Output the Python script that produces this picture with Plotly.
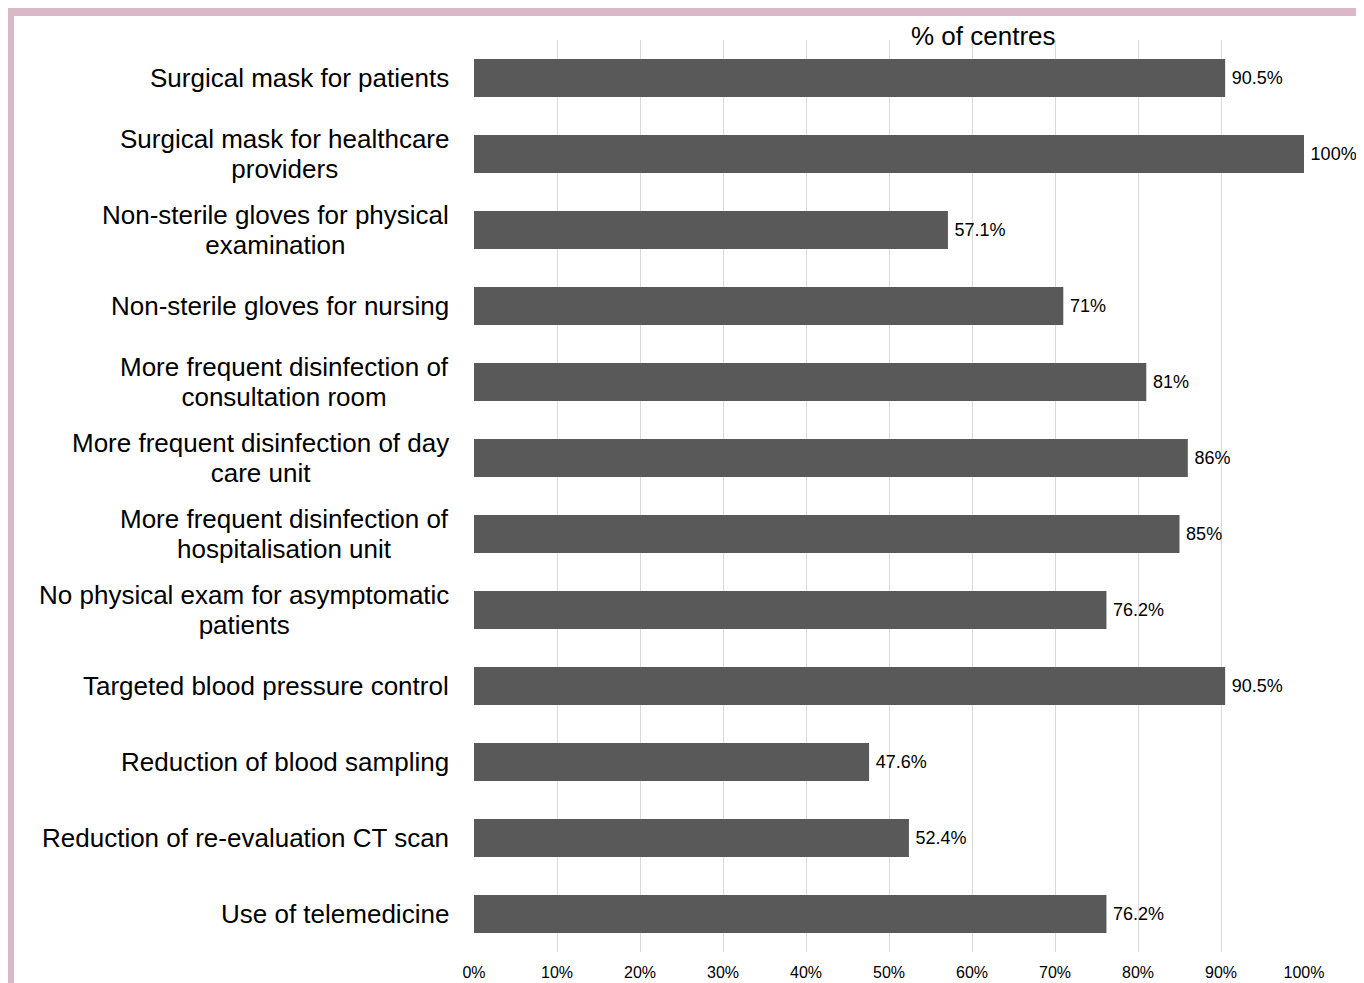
import plotly.graph_objects as go

categories = [
    "Surgical mask for patients",
    "Surgical mask for healthcare<br>providers",
    "Non-sterile gloves for physical<br>examination",
    "Non-sterile gloves for nursing",
    "More frequent disinfection of<br>consultation room",
    "More frequent disinfection of day<br>care unit",
    "More frequent disinfection of<br>hospitalisation unit",
    "No physical exam for asymptomatic<br>patients",
    "Targeted blood pressure control",
    "Reduction of blood sampling",
    "Reduction of re-evaluation CT scan",
    "Use of telemedicine",
]
values = [90.5, 100, 57.1, 71, 81, 86, 85, 76.2, 90.5, 47.6, 52.4, 76.2]
labels = ["90.5%", "100%", "57.1%", "71%", "81%", "86%", "85%", "76.2%", "90.5%", "47.6%", "52.4%", "76.2%"]
tick_vals = [0, 10, 20, 30, 40, 50, 60, 70, 80, 90, 100]
tick_text = ["0%", "10%", "20%", "30%", "40%", "50%", "60%", "70%", "80%", "90%", "100%"]

OFF = 8  # page body margin
W, H = 1364 - OFF, 983 - OFF
L, R, T, B = 474 - OFF, 60, 40 - OFF, 31
pw, ph = W - L - R, H - T - B

def px(x):  # reference page pixel -> paper x
    return (x - OFF - L) / pw

def py(y):  # reference page pixel -> paper y
    return 1 - (y - OFF - T) / ph

FONT = "Liberation Sans, Arial, sans-serif"

fig = go.Figure(go.Bar(
    y=categories, x=values, orientation="h",
    marker=dict(color="#595959", line=dict(width=0)),
    width=0.5,
    text=["\u2009" + s for s in labels], textposition="outside",
    textfont=dict(size=18, color="black", family=FONT),
    cliponaxis=False,
))

for c in categories:
    lines = c.split("<br>")
    txt = "<br>".join('<span style="font-size:26px">%s</span>' % s for s in lines)
    fig.add_annotation(text=txt, xref="paper", yref="y", x=px(451), y=c,
                       xanchor="right", yanchor="middle", align="center",
                       showarrow=False,
                       font=dict(size=23, color="black", family=FONT))

pink = "#dbb8c8"
fig.add_shape(type="rect", xref="paper", yref="paper",
              x0=px(6), x1=px(1370), y0=py(8), y1=py(16),
              fillcolor=pink, line=dict(width=0), layer="above")
fig.add_shape(type="rect", xref="paper", yref="paper",
              x0=px(6), x1=px(14), y0=py(8), y1=py(990),
              fillcolor=pink, line=dict(width=0), layer="above")

fig.add_annotation(text="% of centres", xref="paper", yref="paper",
                   x=px(983), y=py(36), xanchor="center", yanchor="middle",
                   showarrow=False, font=dict(size=26, color="black", family=FONT))

fig.update_layout(
    width=W, height=H,
    margin=dict(l=L, r=R, t=T, b=B, autoexpand=False),
    paper_bgcolor="white", plot_bgcolor="white",
    showlegend=False,
    bargap=0.5,
    font=dict(family=FONT, color="black"),
)
fig.update_xaxes(
    range=[0, 100], tickvals=tick_vals, ticktext=tick_text,
    showgrid=True, gridcolor="#d9d9d9", gridwidth=1,
    zeroline=False, showline=False, ticks="", ticklabelstandoff=9,
    tickfont=dict(size=16, color="black", family=FONT),
    fixedrange=True,
)
fig.update_yaxes(
    autorange="reversed", showgrid=False, zeroline=False, showline=False,
    ticks="", showticklabels=False,
    fixedrange=True,
)

fig.write_html("out.html")
